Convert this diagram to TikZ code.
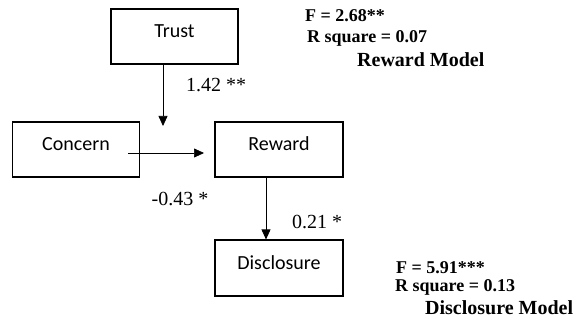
\documentclass[tikz,border=0pt]{standalone}
\usepackage{fontspec}
\setmainfont{Liberation Serif}
\newfontfamily\boxfont{Carlito}
\usetikzlibrary{arrows.meta}
\begin{document}
\begin{tikzpicture}[x=1pt,y=1pt,
  varbox/.style={draw,line width=1.1pt,minimum width=127pt,minimum height=55pt,
    inner sep=0pt,font=\boxfont\fontsize{20}{23}\selectfont,
    text height=13pt,text depth=11pt},
  path/.style={line width=0.7pt,-{Triangle[length=10pt,width=9pt]}},
  coef/.style={font=\fontsize{20}{23}\selectfont,inner sep=0pt},
  stat/.style={font=\bfseries\fontsize{18}{21}\selectfont,anchor=west,inner sep=0pt},
  model/.style={font=\bfseries\fontsize{20}{23}\selectfont,anchor=west,inner sep=0pt}]
\useasboundingbox (0,0) rectangle (585,324);

% variables
\node[varbox] (trust) at (174.5,287.5) {Trust};
\node[varbox] (concern) at (76,174.5) {Concern};
\node[varbox,minimum width=128pt] (reward) at (279,174.5) {Reward};
\node[varbox,minimum width=128pt,minimum height=56pt] (disc) at (279,56) {Disclosure};

% path ends
\coordinate (trustTip) at (163,198);
\coordinate (concernStart) at (128,171);
\coordinate (concernTip) at (204,171);
\coordinate (rdx) at (266,0);

% paths
\draw[path] (trustTip |- trust.south) -- (trustTip);
\draw[path] (concernStart) -- (concernTip);
\draw[path] (rdx |- reward.south) -- (rdx |- disc.north);

% coefficients
\node[coef] (c1) at (216,239) {1.42 **};
\node[coef] (c2) at (180,125) {-0.43 *};
\node[coef] (c3) at (317,102) {0.21 *};

% reward model fit
\node[stat] (f1) at (305,308) {F = 2.68**};
\node[stat] (r1) at (307,286) {R square = 0.07};
\node[model] (m1) at (357,264) {Reward Model};

% disclosure model fit
\node[stat] (f2) at (396,56) {F = 5.91***};
\node[stat] (r2) at (395,37) {R square = 0.13};
\node[model] (m2) at (425,16) {Disclosure Model};
\end{tikzpicture}
\end{document}
